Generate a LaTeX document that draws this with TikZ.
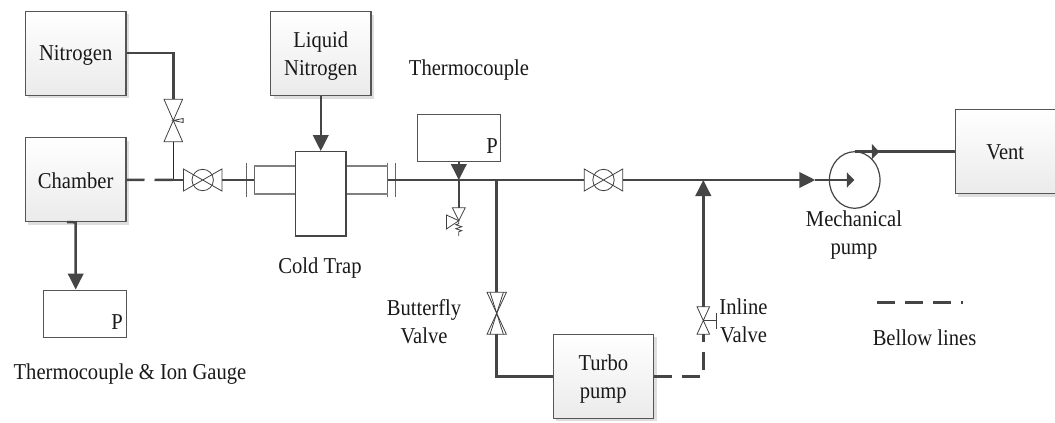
\documentclass[tikz,border=0pt]{standalone}
\usepackage{fontspec}
\setmainfont[FakeStretch=0.907]{Liberation Serif}
\usetikzlibrary{arrows.meta,shadows,calc}
\definecolor{pipec}{HTML}{454545}
\definecolor{flangec}{HTML}{808080}
\definecolor{edgec}{HTML}{555555}
\newcommand\lowertext[2]{\raisebox{-#1}[\height][\depth]{#2}}
\tikzset{
  lbl/.style={font=\fontsize{22.7}{28}\selectfont,align=center,inner sep=0pt,text=black!90},
  boxnode/.style={lbl,draw=edgec,line width=1.1pt,top color=white,bottom color=black!8,
     drop shadow={shadow xshift=3pt,shadow yshift=-3pt,fill=black!13,opacity=1},
     minimum width=100.5pt,minimum height=84pt},
  gaugenode/.style={draw=edgec,line width=1pt,fill=white,inner sep=0pt},
  trapnode/.style={draw=pipec,line width=1.4pt,fill=white,inner sep=0pt,minimum width=50.5pt,minimum height=84.3pt},
  pipe/.style={draw=pipec,line width=2.5pt},
  thinpipe/.style={draw=black!85,line width=1pt},
  flange/.style={draw=flangec,line width=1.6pt},
  flangebar/.style={draw=black!60,line width=1pt},
  bellow/.style={pipe,dash pattern=on 18pt off 10pt},
  bigarrow/.style={-{Triangle[length=16pt,width=15.5pt]}},
  valveline/.style={draw=black!75,line width=.8pt},
  pics/ballvalve/.style={code={
    \fill[white] (0,0) circle [radius=10.7];
    \draw[valveline] (-19.2,-11)--(-19.2,11)--(19.2,-11)--(19.2,11)--cycle;
    \draw[valveline] (0,0) circle [radius=10.7];
    \coordinate (-w) at (-19.2,0); \coordinate (-e) at (19.2,0);}},
  pics/gatevalve/.style={code={
    \draw[valveline] (-9.3,-21.2)--(9.3,-21.2)--(-9.3,21.2)--(9.3,21.2)--cycle;
    \draw[valveline] (0,0)--(9.8,-2)--(9.8,2)--cycle;
    \coordinate (-n) at (0,-21.2); \coordinate (-s) at (0,21.2);}},
  pics/butterflyvalve/.style={code={
    \draw[valveline] (-9.7,-21)--(9.7,-21)--(-9.7,21)--(9.7,21)--cycle;
    \draw[valveline] (-6.7,-21)--(6.7,21) (6.7,-21)--(-6.7,21);
    \coordinate (-n) at (0,-21); \coordinate (-s) at (0,21);}},
  pics/inlinevalve/.style={code={
    \draw[valveline] (-6.3,-13.8)--(6.3,-13.8)--(-6.3,13.8)--(6.3,13.8)--cycle;
    \draw[valveline] (0,0)--(13.4,0) (13.4,-8)--(13.4,8);
    \coordinate (-n) at (0,-13.8); \coordinate (-s) at (0,13.8);}},
  pics/reliefvalve/.style={code={
    \draw[valveline] (-6.5,0)--(6.5,0)--(0,13)--cycle;
    \draw[valveline] (0,13)--(-12.4,7.3)--(-12.4,21.3)--cycle;
    \draw[valveline] (0,13)--(0,16)--(-3,17)--(3,19)--(-3,21)--(3,23)--(0,24)--(0,28.3);
    \coordinate (-n) at (0,0);}},
}
\begin{document}
\begin{tikzpicture}[x=1pt,y=-1pt]
\useasboundingbox (0,0) rectangle (1055,423);
% boxes
\node[boxnode] (nitrogen) at (75.7,53.2) {\lowertext{2pt}{Nitrogen}};
\node[boxnode] (chamber) at (75.7,179.8) {\lowertext{1pt}{Chamber}};
\node[boxnode] (liquid) at (320.75,53.5) {\lowertext{3pt}{Liquid}\\\lowertext{3pt}{Nitrogen}};
\node[boxnode] (vent) at (1005.3,151.5) {\lowertext{1pt}{Vent}};
\node[boxnode] (turbo) at (603.3,376.3) {\lowertext{3pt}{Turbo}\\\lowertext{3pt}{pump}};
\node[trapnode] (trap) at (320.75,193.9) {};
\node[gaugenode,minimum width=83pt,minimum height=47pt] (gauge1) at (84.5,313.5) {};
\node[gaugenode,minimum width=83pt,minimum height=46.7pt] (gauge2) at (458.8,137.7) {};
\node[lbl] (p1) at (117,321.7) {P};
\node[lbl] (p2) at (492,146) {P};
% labels
\node[lbl] (lab1) at (130,374) {Thermocouple \& Ion Gauge};
\node[lbl] (lab2) at (469,70.5) {Thermocouple};
\node[lbl] (lab3) at (320,268) {Cold Trap};
\node[lbl] (lab4) at (424,321.5) {Butterfly\\Valve};
\node[lbl] (lab5) at (743.5,321) {Inline\\Valve};
\node[lbl] (lab6) at (854,235) {Mechanical\\pump};
\node[lbl] (lab7) at (924.5,337.5) {Bellow lines};
% fittings
\coordinate (jn) at (173.3,180);
\pic (v1) at (202.7,180) {ballvalve};
\pic (v2) at (603.5,180) {ballvalve};
\pic (v3) at (173.3,120.5) {gatevalve};
\pic (bv) at (496.7,313.3) {butterflyvalve};
\pic (iv) at (703.3,320.5) {inlinevalve};
\pic (rv) at (458.8,207.7) {reliefvalve};
% flanges
\coordinate (fl1) at (246,180);
\coordinate (fl2) at (254,180);
\coordinate (fl3) at (387.7,180);
\coordinate (fl4) at (395.7,180);
\draw[flangebar] ($(fl1)+(0,-17)$) -- ($(fl1)+(0,17)$);
\draw[flangebar] ($(fl2)+(0,-14.3)$) -- ($(fl2)+(0,14.3)$);
\draw[flangebar] ($(fl3)+(0,-17)$) -- ($(fl3)+(0,17)$);
\draw[flangebar] ($(fl4)+(0,-17)$) -- ($(fl4)+(0,17)$);
\draw[flange] ($(fl2)+(0,-14.3)$) -- (trap.west |- 0,165.7);
\draw[flange] ($(fl2)+(0,13.7)$) -- (trap.west |- 0,193.7);
\draw[flange] (trap.east |- 0,165.7) -- ($(fl3)+(0,-14.3)$);
\draw[flange] (trap.east |- 0,193.7) -- ($(fl3)+(0,13.7)$);
% pipes
\draw[pipe] (nitrogen.east) -| (v3-n);
\draw[thinpipe] (v3-s) -- (jn);
\draw[bellow] (chamber.east) -- (jn);
\draw[pipe] (171,180) -- (v1-w);
\draw[pipe] (v1-e) -- (fl2);
\coordinate (mainT) at (496.7,180);
\coordinate (inlT) at (703.3,180);
\coordinate (pumpin) at (815.3,180);
\draw[pipe] (fl3) -- (v2-w);
\draw[pipe,bigarrow] (v2-e) -- (pumpin);
\draw[pipe] (mainT) -- (bv-n);
\draw[pipe] (bv-s) |- (turbo.west);
\draw[bellow] (turbo.east) -| (iv-s);
\draw[pipe,bigarrow] (iv-n) -- (inlT);
\draw[pipe,bigarrow] (gauge2.south) -- (gauge2.south |- mainT);
\draw[pipe] (gauge2.south |- mainT) -- (rv-n);
\coordinate (stub) at (67,222);
\draw[pipe,bigarrow] (stub) -- (chamber.south) -- (chamber.south |- gauge1.north);
\draw[pipe,bigarrow] (liquid.south) -- (trap.north);
% pump
\draw[draw=pipec,line width=1.2pt,fill=white] (854.7,180) ellipse [x radius=25.3,y radius=28.3];
\coordinate (pumpc) at (854.3,180);
\coordinate (pumptop) at (854.7,151.7);
\coordinate (pumpmark) at (879.3,151.7);
\draw[pipe,-{Triangle[length=7.5pt,width=15pt]}] (pumpin) -- (pumpc);
\draw[pipe] (pumptop) -- (vent.west |- pumptop);
\draw[pipe,-{Triangle[length=7.5pt,width=15pt]}] (pumptop) -- (pumpmark);
% legend
\coordinate (leg1) at (877.3,302.3);
\coordinate (leg2) at (962.5,302.3);
\draw[bellow] (leg1) -- (leg2);
\end{tikzpicture}
\end{document}
